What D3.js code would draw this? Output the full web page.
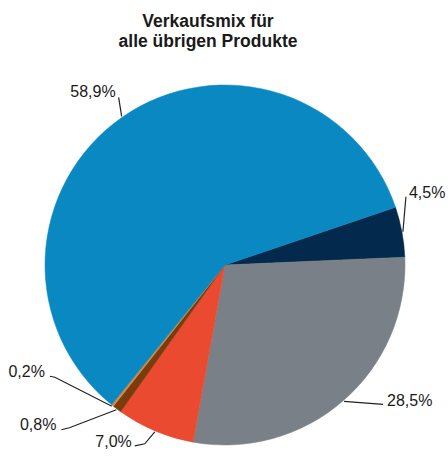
<!DOCTYPE html>
<html>
<head>
<meta charset="utf-8">
<script src="https://cdn.jsdelivr.net/npm/d3@7"></script>
<style>
  body { margin: 0; background: #fff; }
  text { font-family: "Liberation Sans", Arial, sans-serif; fill: #1a1a1a; }
</style>
</head>
<body>
<div id="chart"></div>
<script>
var width = 448, height = 457;

//Data, clockwise from the navy slice
var categories = ["Navy", "Grau", "Rot", "Braun", "Orange", "Blau"];
var shares = [4.5, 28.5, 7.0, 0.8, 0.2, 58.9];
var labels = ["4,5%", "28,5%", "7,0%", "0,8%", "0,2%", "58,9%"];
var colors = ["#032a4c", "#7a8088", "#e94a30", "#7c3b0c", "#d6893a", "#0a88c2"];

//Leader line layout: elbow / end offsets from the slice edge, text side
var leaderLayout = [
    { pts: [[3, -35]], tx: 3, ty: 1, anchor: "start" },
    { pts: [[39, 3]], tx: 4, ty: 2, anchor: "start" },
    { pts: [[-10, 12], [-20, 14]], tx: -3, ty: 1, anchor: "end" },
    { pts: [[-47, 18], [-55, 20]], tx: -5, ty: 0, anchor: "end" },
    { pts: [[-57, -29], [-62, -30]], tx: -5, ty: 1, anchor: "end" },
    { pts: [[-3, -19]], tx: -3, ty: 0, anchor: "end" }
];

var cx = 225, cy = 265, radius = 180;
var startDeg = 71.3;

var svg = d3.select("#chart").append("svg")
    .attr("width", width)
    .attr("height", height);

//Title
var title = svg.append("text")
    .attr("x", 208)
    .attr("y", 27)
    .attr("text-anchor", "middle")
    .style("font-size", "17.5px")
    .style("font-weight", "bold");
title.append("tspan").attr("x", 208).text("Verkaufsmix für");
title.append("tspan").attr("x", 208).attr("dy", 20).text("alle übrigen Produkte");

var pie = d3.pie()
    .sort(null)
    .value(d => d)
    .startAngle(startDeg * Math.PI / 180)
    .endAngle(startDeg * Math.PI / 180 + 2 * Math.PI);

var arc = d3.arc().innerRadius(0).outerRadius(radius);

var arcs = pie(shares);

var g = svg.append("g").attr("transform", `translate(${cx}, ${cy})`);

g.selectAll("path")
    .data(arcs)
    .enter()
    .append("path")
    .attr("d", arc)
    .attr("fill", (d, i) => colors[i])
    .attr("stroke", (d, i) => colors[i])
    .attr("stroke-width", 0.5);

//Leader lines and labels
arcs.forEach((d, i) => {
    var mid = (d.startAngle + d.endAngle) / 2;
    var sx = Math.sin(mid) * (radius + 1);
    var sy = -Math.cos(mid) * (radius + 1);
    var lay = leaderLayout[i];
    var pts = [[sx, sy]].concat(lay.pts.map(p => [sx + p[0], sy + p[1]]));
    var end = pts[pts.length - 1];

    g.append("path")
        .attr("d", d3.line()(pts))
        .attr("fill", "none")
        .attr("stroke", "#222")
        .attr("stroke-width", 1.2);

    g.append("text")
        .attr("x", end[0] + lay.tx)
        .attr("y", end[1] + lay.ty)
        .attr("text-anchor", lay.anchor)
        .style("font-size", "16px")
        .text(labels[i]);
});
</script>
</body>
</html>
